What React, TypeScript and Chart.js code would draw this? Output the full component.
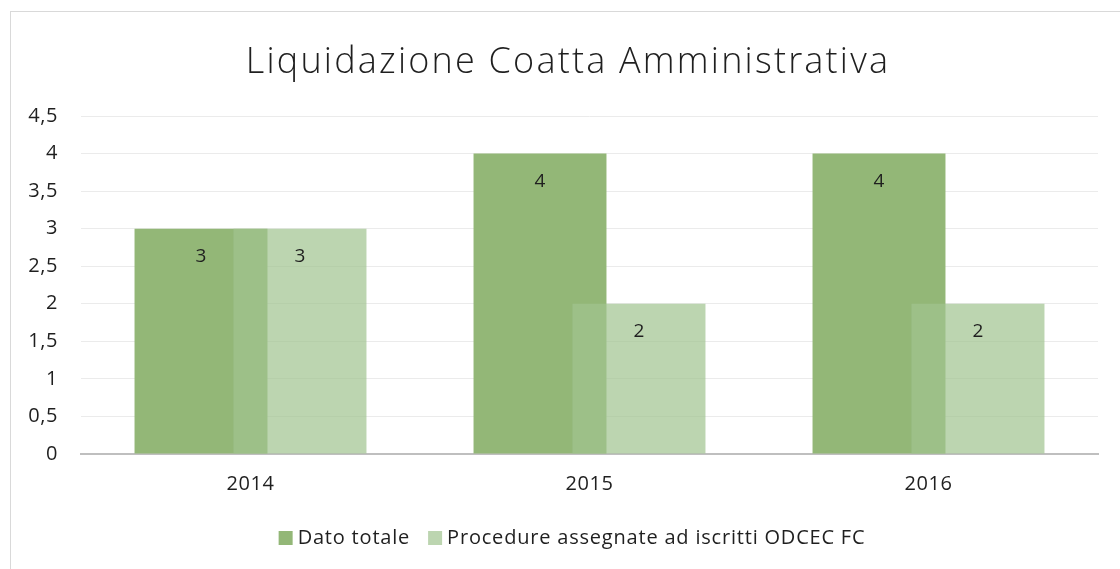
import React, { useEffect, useRef } from "react";
import { Chart, registerables } from "chart.js";

Chart.register(...registerables);

const categories = ["2014", "2015", "2016"];
const datoTotale = [3, 4, 4];
const procedureAssegnate = [3, 2, 2];
const seriesNames = ["Dato totale", "Procedure assegnate ad iscritti ODCEC FC"];
const titleText = "Liquidazione Coatta Amministrativa";

const FONT = "'Open Sans', 'Noto Sans', sans-serif";
const TEXT = "#1f1f1f";
const COLORS = ["rgb(147,183,119)", "rgba(161,196,144,0.71)"];

// Draw the second series on top of the first (Excel overlap look), then labels, title and legend.
const overlapPlugin = {
  id: "overlapAndLabels",
  beforeDraw(chart: any) {
    (chart.ctx as any).letterSpacing = "0.6px";
  },
  beforeDatasetDraw(chart: any, args: any) {
    if (args.index === 1 && !chart.$manualDraw) return false;
    return true;
  },
  afterDatasetsDraw(chart: any) {
    const ctx = chart.ctx;
    const area = chart.chartArea;
    ctx.save();
    ctx.beginPath();
    ctx.rect(area.left, area.top, area.right - area.left, area.bottom - area.top);
    ctx.clip();
    chart.$manualDraw = true;
    chart.getDatasetMeta(1).controller.draw();
    chart.$manualDraw = false;
    ctx.restore();

    ctx.save();
    ctx.font = `19px ${FONT}`;
    (ctx as any).letterSpacing = "0px";
    ctx.fillStyle = TEXT;
    ctx.textAlign = "center";
    ctx.textBaseline = "middle";
    chart.data.datasets.forEach((ds: any, di: number) => {
      const meta = chart.getDatasetMeta(di);
      meta.data.forEach((bar: any, i: number) => {
        ctx.fillText(String(ds.data[i]), bar.x, bar.y + 28);
      });
    });
    ctx.restore();
  },
  afterDraw(chart: any) {
    const ctx = chart.ctx;
    // title
    ctx.save();
    ctx.font = `300 36px ${FONT}`;
    (ctx as any).letterSpacing = "2.2px";
    ctx.fillStyle = TEXT;
    ctx.textAlign = "center";
    ctx.textBaseline = "alphabetic";
    ctx.fillText(titleText, 568, 73);
    ctx.restore();

    // legend
    ctx.save();
    ctx.font = `20px ${FONT}`;
    (ctx as any).letterSpacing = "0.8px";
    ctx.textBaseline = "middle";
    ctx.textAlign = "left";
    const box = 14;
    const gapText = 5;
    const gapItem = 18;
    const items = chart.data.datasets.map((ds: any) => ({
      label: ds.label,
      color: ds.backgroundColor,
      w: ctx.measureText(ds.label).width,
    }));
    const total = items.reduce((s: number, it: any) => s + box + gapText + it.w, 0) + gapItem * (items.length - 1);
    let x = 572 - total / 2;
    const cy = 538;
    items.forEach((it: any) => {
      ctx.fillStyle = it.color;
      ctx.fillRect(x, cy - box / 2, box, box);
      x += box + gapText;
      ctx.fillStyle = TEXT;
      ctx.fillText(it.label, x, cy);
      x += it.w + gapItem;
    });
    ctx.restore();
  },
};

export default function App() {
  const ref = useRef<HTMLCanvasElement | null>(null);
  useEffect(() => {
    if (!ref.current) return;
    const chart = new Chart(ref.current, {
      type: "bar",
      data: {
        labels: categories,
        datasets: [
          {
            label: seriesNames[0],
            data: datoTotale,
            backgroundColor: COLORS[0],
            categoryPercentage: 0.584,
            barPercentage: 1.343,
          },
          {
            label: seriesNames[1],
            data: procedureAssegnate,
            backgroundColor: COLORS[1],
            categoryPercentage: 0.584,
            barPercentage: 1.343,
          },
        ],
      },
      options: {
        animation: false,
        responsive: false,
        maintainAspectRatio: false,
        layout: { padding: { left: 0, right: 22, top: 116, bottom: 55 } },
        plugins: {
          title: { display: false },
          legend: { display: false },
          tooltip: { enabled: false },
        },
        scales: {
          x: {
            grid: { display: false, drawTicks: false },
            border: { color: "#bfbfbf", width: 2 },
            ticks: { color: TEXT, font: { family: FONT, size: 20 }, padding: 18 },
          },
          y: {
            min: 0,
            max: 4.5,
            grid: { color: "#ebebeb", drawTicks: false },
            border: { display: false },
            ticks: {
              stepSize: 0.5,
              color: TEXT,
              font: { family: FONT, size: 20 },
              padding: 23,
              callback: (v: any) => String(v).replace(".", ","),
            },
            afterFit: (scale: any) => {
              scale.width = 81;
            },
          },
        },
      },
      plugins: [overlapPlugin],
    });
    return () => chart.destroy();
  }, []);
  return (
    <div style={{ position: "fixed", left: 0, top: 0, width: 1120, height: 569, background: "#fff" }}>
      <div
        style={{
          position: "absolute",
          left: 10,
          top: 11,
          width: 1200,
          height: 600,
          border: "1px solid #d9d9d9",
        }}
      />
      <canvas ref={ref} width={1120} height={569} style={{ position: "absolute", left: 0, top: 0 }} />
    </div>
  );
}
